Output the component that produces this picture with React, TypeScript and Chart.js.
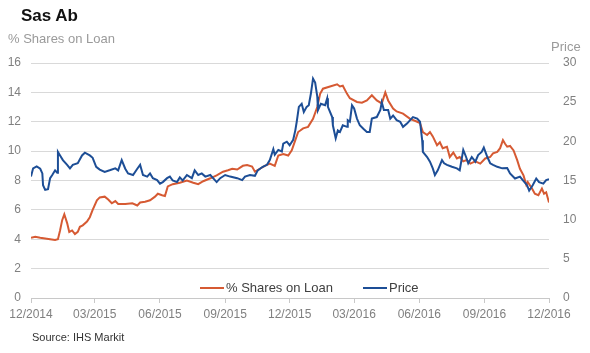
import React, { useEffect, useRef } from "react";
import { Chart, registerables } from "chart.js";
Chart.register(...registerables);

// x values are days since 2014-12-01
const tickDays = [0, 90, 182, 274, 365, 456, 548, 640, 731];
const tickLabels = ["12/2014", "03/2015", "06/2015", "09/2015", "12/2015", "03/2016", "06/2016", "09/2016", "12/2016"];

const loanDays = [0, 6, 13, 20, 27, 34, 38, 41, 44, 47, 51, 54, 58, 62, 66, 69, 73, 79, 83, 87, 93, 97, 104, 109, 114, 119, 123, 133, 143, 150, 154, 161, 168, 175, 179, 185, 189, 193, 200, 210, 220, 229, 236, 243, 253, 262, 271, 278, 284, 291, 299, 305, 312, 316, 323, 330, 337, 344, 349, 356, 363, 368, 373, 377, 380, 384, 391, 398, 404, 408, 412, 422, 432, 436, 440, 446, 450, 460, 467, 474, 481, 488, 495, 500, 504, 511, 516, 525, 535, 545, 549, 553, 559, 563, 567, 573, 577, 581, 587, 591, 596, 601, 605, 610, 615, 620, 627, 634, 641, 648, 652, 658, 662, 666, 669, 672, 676, 681, 686, 690, 695, 699, 701, 707, 711, 716, 721, 724, 727, 731];
const loanPct = [4.1, 4.17, 4.1, 4.05, 4.0, 3.95, 4.0, 4.6, 5.3, 5.7, 5.1, 4.5, 4.6, 4.35, 4.5, 4.85, 4.95, 5.2, 5.5, 6.0, 6.65, 6.85, 6.9, 6.7, 6.45, 6.6, 6.4, 6.4, 6.45, 6.3, 6.5, 6.55, 6.65, 6.9, 7.1, 7.0, 6.95, 7.6, 7.75, 7.85, 8.0, 7.85, 7.75, 7.95, 8.15, 8.35, 8.6, 8.7, 8.8, 8.75, 9.0, 9.05, 8.95, 8.6, 8.8, 9.0, 9.15, 9.0, 9.7, 9.8, 9.7, 10.05, 10.75, 11.3, 11.4, 11.55, 11.65, 12.2, 13.0, 13.9, 14.25, 14.4, 14.55, 14.4, 14.45, 13.9, 13.6, 13.35, 13.3, 13.45, 13.8, 13.45, 13.25, 14.0, 13.45, 12.9, 12.7, 12.55, 12.2, 12.0, 11.9, 11.3, 11.1, 11.3, 11.0, 10.4, 10.6, 10.2, 10.3, 9.6, 9.9, 9.5, 9.6, 9.3, 9.4, 9.15, 9.3, 9.15, 9.5, 9.6, 9.85, 9.95, 10.2, 10.75, 10.5, 10.3, 10.35, 10.05, 9.4, 8.8, 8.35, 7.7, 7.9, 7.45, 7.1, 7.0, 7.45, 7.1, 7.2, 6.5];

const priceDays = [0, 3, 8, 13, 16, 17, 20, 24, 27, 30, 34, 37, 38, 41, 45, 51, 55, 59, 66, 72, 76, 83, 87, 92, 97, 104, 111, 119, 123, 128, 133, 137, 144, 150, 154, 158, 164, 168, 172, 178, 182, 186, 192, 196, 200, 206, 210, 214, 220, 227, 231, 236, 241, 246, 253, 257, 262, 267, 274, 281, 291, 298, 302, 309, 316, 320, 327, 333, 337, 342, 344, 349, 354, 356, 361, 365, 370, 373, 375, 378, 382, 385, 389, 392, 395, 398, 401, 404, 405, 409, 415, 418, 419, 425, 426, 430, 433, 436, 440, 446, 447, 450, 453, 456, 460, 464, 469, 474, 478, 481, 488, 493, 495, 498, 504, 507, 511, 516, 521, 525, 531, 535, 539, 545, 549, 552, 553, 559, 563, 567, 570, 574, 580, 583, 587, 594, 601, 605, 610, 614, 617, 622, 627, 631, 636, 639, 644, 648, 652, 658, 665, 672, 676, 683, 690, 694, 700, 703, 708, 713, 717, 723, 727, 731];
const priceValues = [15.5, 16.55, 16.8, 16.5, 15.9, 14.4, 13.8, 13.9, 15.3, 15.7, 16.3, 16.0, 18.65, 18.2, 17.6, 17.0, 16.55, 17.0, 17.2, 18.2, 18.55, 18.2, 17.9, 16.75, 16.4, 16.1, 16.3, 16.55, 16.3, 17.6, 16.5, 15.9, 15.7, 16.5, 17.0, 15.7, 15.5, 15.9, 15.3, 15.05, 14.6, 14.8, 15.3, 15.5, 15.0, 14.8, 15.4, 15.0, 15.7, 15.3, 16.3, 15.7, 15.9, 15.5, 15.7, 15.3, 14.8, 15.3, 15.7, 15.5, 15.3, 15.05, 15.5, 15.7, 15.6, 16.3, 16.75, 17.0, 17.6, 19.0, 18.3, 18.9, 18.7, 19.7, 19.95, 19.5, 20.2, 21.4, 22.5, 24.4, 24.8, 23.75, 24.4, 24.6, 26.1, 28.0, 27.5, 25.7, 24.0, 24.8, 24.6, 25.5, 24.4, 23.1, 22.05, 20.4, 21.4, 21.2, 22.05, 21.85, 22.7, 22.5, 24.6, 24.2, 22.9, 22.05, 21.6, 21.2, 21.2, 22.9, 23.1, 24.0, 25.0, 24.0, 24.0, 22.9, 23.3, 22.7, 22.5, 21.85, 22.3, 22.7, 23.1, 22.9, 22.5, 20.15, 18.65, 18.0, 17.4, 16.55, 15.7, 16.3, 17.6, 17.2, 17.0, 16.75, 16.55, 16.3, 18.9, 18.0, 17.2, 18.0, 17.4, 18.25, 18.65, 19.2, 18.0, 17.2, 17.0, 16.75, 16.55, 16.6, 15.9, 15.25, 15.5, 15.05, 14.4, 13.7, 14.4, 15.25, 14.8, 14.6, 15.05, 15.15];

const ORANGE = "#d65a33";
const BLUE = "#1d4e96";
const FONT = "'Liberation Sans', Arial, sans-serif";

export default function App() {
  const ref = useRef<HTMLCanvasElement | null>(null);

  useEffect(() => {
    if (!ref.current) return;
    const chart = new Chart(ref.current, {
      type: "line",
      data: {
        datasets: [
          {
            label: "Price",
            data: priceDays.map((d, i) => ({ x: d, y: priceValues[i] })),
            yAxisID: "y1",
            borderColor: BLUE,
            borderWidth: 2,
            pointRadius: 0,
            tension: 0,
            order: 0,
          },
          {
            label: "% Shares on Loan",
            data: loanDays.map((d, i) => ({ x: d, y: loanPct[i] })),
            yAxisID: "y",
            borderColor: ORANGE,
            borderWidth: 2,
            pointRadius: 0,
            tension: 0,
            order: 1,
          },
        ],
      },
      options: {
        animation: false,
        responsive: false,
        layout: { padding: { top: 63, left: 0, right: 0, bottom: 0 } },
        plugins: { legend: { display: false }, tooltip: { enabled: false } },
        scales: {
          x: {
            type: "linear",
            min: 0,
            max: 731,
            afterBuildTicks: (s: any) => {
              s.ticks = tickDays.map((v) => ({ value: v }));
            },
            afterFit: (s: any) => {
              s.height = 55;
            },
            ticks: {
              autoSkip: false,
              maxRotation: 0,
              padding: 4,
              color: "#808080",
              font: { family: FONT, size: 12 },
              callback: (v: any) => {
                const i = tickDays.indexOf(Number(v));
                return i >= 0 ? tickLabels[i] : "";
              },
            },
            grid: { drawOnChartArea: false, drawTicks: true, tickLength: 5, color: "#c8c8c8" },
            border: { display: true, color: "#c8c8c8" },
          },
          y: {
            position: "left",
            min: 0,
            max: 16,
            afterFit: (s: any) => {
              s.width = 31;
            },
            ticks: { stepSize: 2, padding: 10, color: "#808080", font: { family: FONT, size: 12 } },
            grid: { color: "#d9d9d9", drawTicks: false },
            border: { display: false },
          },
          y1: {
            position: "right",
            min: 0,
            max: 30,
            afterFit: (s: any) => {
              s.width = 41;
            },
            ticks: { stepSize: 5, padding: 14, color: "#808080", font: { family: FONT, size: 12 } },
            grid: { display: false, drawTicks: false },
            border: { display: false },
          },
        },
      },
    } as any);
    return () => chart.destroy();
  }, []);

  const txt = (style: React.CSSProperties): React.CSSProperties => ({
    position: "absolute",
    fontFamily: FONT,
    whiteSpace: "nowrap",
    lineHeight: "1",
    ...style,
  });

  return (
    <div style={{ position: "absolute", left: 0, top: 0, width: 590, height: 353, background: "#fff" }}>
      <canvas ref={ref} width={590} height={353} style={{ position: "absolute", left: 0, top: 0 }} />
      <div style={txt({ left: 21, top: 7, fontSize: 17, fontWeight: "bold", color: "#111" })}>Sas Ab</div>
      <div style={txt({ left: 8, top: 32, fontSize: 13, color: "#9a9a9a" })}>% Shares on Loan</div>
      <div style={txt({ left: 551, top: 40, fontSize: 13, color: "#9a9a9a" })}>Price</div>
      <div style={txt({ left: 200, top: 281, fontSize: 13, color: "#404040", display: "flex", alignItems: "center" })}>
        <span style={{ display: "inline-block", width: 24, height: 2, background: ORANGE, marginRight: 2 }} />
        <span>% Shares on Loan</span>
        <span style={{ display: "inline-block", width: 24, height: 2, background: BLUE, marginLeft: 30, marginRight: 2 }} />
        <span>Price</span>
      </div>
      <div style={txt({ left: 32, top: 332, fontSize: 11, color: "#333" })}>Source: IHS Markit</div>
    </div>
  );
}
